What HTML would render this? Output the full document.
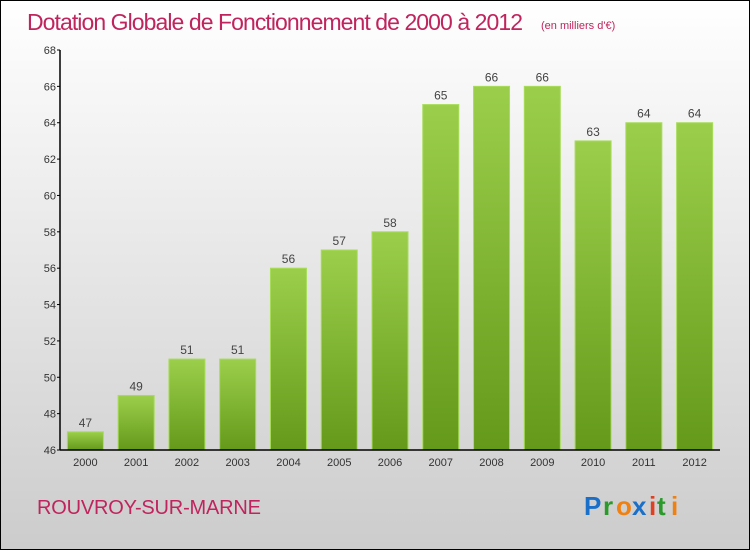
<!DOCTYPE html>
<html><head><meta charset="utf-8"><style>
html,body{margin:0;padding:0}
body{width:750px;height:550px;overflow:hidden;font-family:"Liberation Sans",sans-serif}
#wrap{position:absolute;left:0;top:0;width:748px;height:548px;border:1px solid #000;background:linear-gradient(#fff,#ccc)}
</style></head><body>
<div id="wrap">
<svg id="svg" width="748" height="548" xmlns="http://www.w3.org/2000/svg">
<defs><linearGradient id="bg" x1="0" y1="0" x2="0" y2="1"><stop offset="0" stop-color="#9bcf4b"/><stop offset="1" stop-color="#64991a"/></linearGradient></defs>
<text x="26" y="29" font-size="23" fill="#c0245c" style="font-weight:300" textLength="496">Dotation Globale de Fonctionnement de 2000 à 2012</text>
<text x="540" y="28" font-size="11" fill="#c0245c">(en milliers d'€)</text>
<text x="36" y="513" font-size="20" fill="#c0245c" textLength="224">ROUVROY-SUR-MARNE</text>
<g font-size="26" font-weight="bold" font-family="Liberation Sans, sans-serif">
<text x="583" y="514" fill="#1a6fc8">P</text><text x="602" y="514" fill="#2a9a2a">r</text><text x="615" y="514" fill="#f08010">o</text><text x="631" y="514" fill="#1a6fc8">x</text><text x="648" y="514" fill="#e04020">i</text><text x="656" y="514" fill="#2a9a2a">t</text><text x="670" y="514" fill="#f08010">i</text>
</g>
<g id="plot"></g>
</svg></div>
<script>
const categories=["2000","2001","2002","2003","2004","2005","2006","2007","2008","2009","2010","2011","2012"];
const values=[47,49,51,51,56,57,58,65,66,66,63,64,64];
const yTicks=[46,48,50,52,54,56,58,60,62,64,66,68];
const X0=59,X1=719,Y0=449,Y1=49,YMIN=46,YMAX=68;
const y=v=>Y0-(v-YMIN)/(YMAX-YMIN)*(Y0-Y1);
const band=(X1-X0)/categories.length;
const x=i=>X0+band*(i+0.5);
const g=document.getElementById('plot');const NS="http://www.w3.org/2000/svg";
function mk(t,a){const e=document.createElementNS(NS,t);for(const k in a)e.setAttribute(k,a[k]);g.appendChild(e);return e;}
values.forEach((v,i)=>{
const r=mk('rect',{x:x(i)-18,y:y(v),width:36,height:Y0-y(v),fill:'url(#bg)',stroke:'#a8dc5a','stroke-width':1});


const t=mk('text',{x:x(i),y:y(v)-5,'text-anchor':'middle','font-size':12,fill:'#444'});t.textContent=v;


const c=mk('text',{x:x(i),y:Y0+16,'text-anchor':'middle','font-size':11,fill:'#333'});c.textContent=categories[i];


});
yTicks.forEach(v=>{
const l=mk('line',{x1:X0-3,x2:X0,y1:y(v),y2:y(v),stroke:'#000'});


const t=mk('text',{x:X0-4,y:y(v)+4,'text-anchor':'end','font-size':11,fill:'#333'});t.textContent=v;


});
const ya=mk('line',{x1:X0,x2:X0,y1:Y1,y2:Y0,stroke:'#000','stroke-width':1.5});


const xa=mk('line',{x1:X0,x2:X1,y1:Y0,y2:Y0,stroke:'#000','stroke-width':1.5});


</script>
</body></html>
